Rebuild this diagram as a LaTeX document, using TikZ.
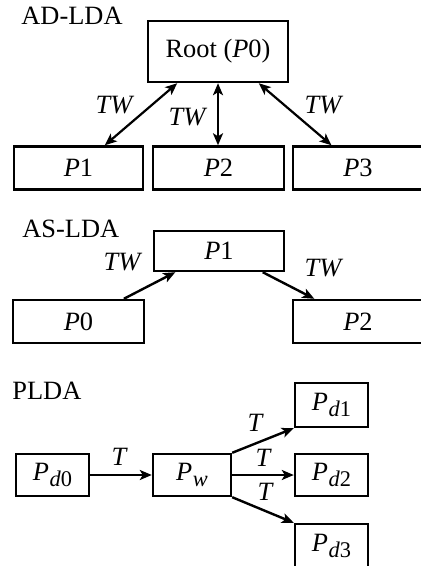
\documentclass[tikz,border=0pt]{standalone}
\usepackage{fontspec}
\setmainfont{Liberation Serif}
\usetikzlibrary{arrows.meta,calc}
% P with a lowered, smaller subscript
\newcommand{\psub}[1]{\textit{P}\kern0.3pt\raisebox{-3.2pt}{\fontsize{11.2}{11}\selectfont #1}}
\begin{document}
\begin{tikzpicture}[x=0.5pt,y=-0.5pt,
  font=\fontsize{13.2}{15}\selectfont,
  pbox/.style 2 args={draw, line width=1.2pt, inner sep=0pt,
    minimum width=#1, minimum height=#2},
  tip/.tip={Stealth[length=6pt,width=5pt,inset=1.5pt]},
  link/.style={line width=1.2pt, -tip},
  both/.style={line width=1.1pt, tip-tip},
  lbl/.style={inner sep=0pt, font=\fontsize{13.2}{15}\selectfont\itshape},
  head/.style={anchor=west, inner sep=0pt}]
\useasboundingbox (0,0) rectangle (420,566);

% ---- AD-LDA ----
\node[head] (tad) at (21,16) {AD-LDA};
\node[pbox={70pt}{30.5pt}] (root) at (218,51.5) {Root (\textit{P}0)};
\node[pbox={64.5pt}{21.5pt}] (a1) at (78.5,168) {\textit{P}1};
\node[pbox={65.5pt}{21.5pt}] (a2) at (218.5,168) {\textit{P}2};
\node[pbox={65pt}{21.5pt}] (a3) at (358,168) {\textit{P}3};
\draw[both] ($(root.south west)!0.214!(root.south east)$) -- ($(a1.north west)!0.70!(a1.north east)$);
\draw[both] (root.south) -- (root.south |- a2.north);
\draw[both] ($(root.south west)!0.786!(root.south east)$) -- ($(a3.north west)!0.30!(a3.north east)$);
\node[lbl] (l1) at (114,105) {TW};
\node[lbl] (l2) at (187,117) {TW};
\node[lbl] (l3) at (323,105) {TW};

% ---- AS-LDA ----
\node[head] (tas) at (22,229) {AS-LDA};
\node[pbox={65pt}{20pt}] (b1) at (219,251) {\textit{P}1};
\node[pbox={65.5pt}{21.5pt}] (b0) at (78.5,321.5) {\textit{P}0};
\node[pbox={65pt}{21.5pt}] (b2) at (358,321.5) {\textit{P}2};
\draw[link] ($(b0.north west)!0.84!(b0.north east)$) -- ($(b1.south west)!0.17!(b1.south east)$);
\draw[link] ($(b1.south west)!0.83!(b1.south east)$) -- ($(b2.north west)!0.17!(b2.north east)$);
\node[lbl] (l4) at (122,262) {TW};
\node[lbl] (l5) at (323,268) {TW};

% ---- PLDA ----
\node[head] (tpl) at (12,391) {PLDA};
\node[pbox={36.5pt}{21pt}] (c0) at (52.5,475) {\psub{\textit{d}0}};
\node[pbox={39pt}{21pt}] (cw) at (192,475) {\psub{\textit{w}}};
\node[pbox={36.5pt}{22pt}] (d1) at (331.5,405) {\psub{\textit{d}1}};
\node[pbox={36.5pt}{21pt}] (d2) at (331.5,475) {\psub{\textit{d}2}};
\node[pbox={36.5pt}{22pt}] (d3) at (331.5,546) {\psub{\textit{d}3}};
\draw[link] (c0.east) -- (cw.west);
\draw[link] (cw.north east) -- (d1.south west);
\draw[link] (cw.east) -- (d2.west);
\draw[link] (cw.south east) -- (d3.north west);
\node[lbl] (t0) at (119,457) {T};
\node[lbl] (t1) at (255,423) {T};
\node[lbl] (t2) at (263,458) {T};
\node[lbl] (t3) at (265,492) {T};
\end{tikzpicture}
\end{document}
